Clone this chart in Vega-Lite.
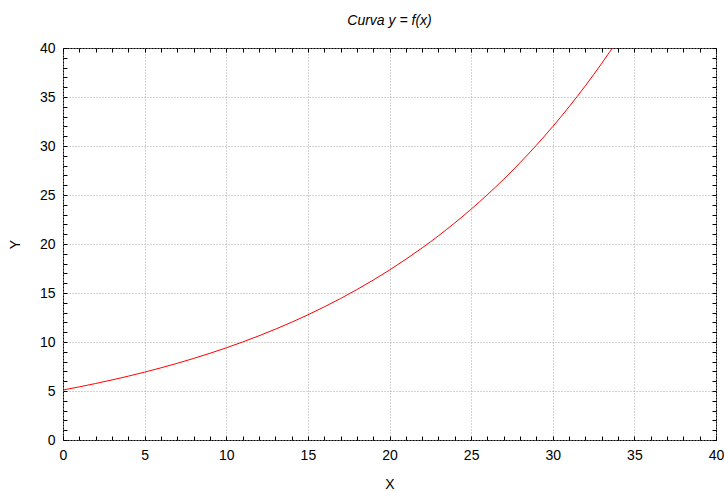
{
  "$schema": "https://vega.github.io/schema/vega-lite/v6.json",
  "width": 653,
  "height": 392,
  "autosize": "none",
  "padding": {"left": 63, "top": 48, "right": 9, "bottom": 51},
  "background": "white",
  "title": {"text": "Curva y = f(x)", "font": "Liberation Sans", "fontSize": 14, "fontWeight": "normal", "fontStyle": "italic", "color": "#000", "offset": 12},
  "config": {
    "view": {"stroke": "#000", "strokeWidth": 1},
    "axis": {"labelFont": "Liberation Sans", "labelFontSize": 14, "labelColor": "#000", "titleFont": "Liberation Sans", "titleFontSize": 14, "titleFontWeight": "normal", "titleColor": "#000", "domain": false, "tickColor": "#000"}
  },
  "data": {"values": [
    {"x": 0, "y": 5.100}, {"x": 1, "y": 5.422}, {"x": 2, "y": 5.764}, {"x": 3, "y": 6.128}, {"x": 4, "y": 6.515},
    {"x": 5, "y": 6.926}, {"x": 6, "y": 7.363}, {"x": 7, "y": 7.828}, {"x": 8, "y": 8.322}, {"x": 9, "y": 8.847},
    {"x": 10, "y": 9.405}, {"x": 11, "y": 9.999}, {"x": 12, "y": 10.630}, {"x": 13, "y": 11.300}, {"x": 14, "y": 12.014},
    {"x": 15, "y": 12.772}, {"x": 16, "y": 13.578}, {"x": 17, "y": 14.435}, {"x": 18, "y": 15.346}, {"x": 19, "y": 16.314},
    {"x": 20, "y": 17.344}, {"x": 21, "y": 18.438}, {"x": 22, "y": 19.602}, {"x": 23, "y": 20.839}, {"x": 24, "y": 22.154},
    {"x": 25, "y": 23.553}, {"x": 26, "y": 25.039}, {"x": 27, "y": 26.619}, {"x": 28, "y": 28.299}, {"x": 29, "y": 30.085},
    {"x": 30, "y": 31.984}, {"x": 31, "y": 34.002}, {"x": 32, "y": 36.148}, {"x": 33, "y": 38.430}, {"x": 34, "y": 40.855}
  ]},
  "resolve": {"axis": {"x": "independent", "y": "independent"}},
  "layer": [
    {
      "mark": {"type": "line", "color": "#ff0000", "strokeWidth": 1, "clip": true, "interpolate": "monotone"},
      "encoding": {
        "x": {"field": "x", "type": "quantitative", "scale": {"domain": [0, 40], "nice": false, "zero": false},
          "axis": {"orient": "bottom", "title": "X", "values": [0,5,10,15,20,25,30,35,40], "ticks": false, "labelPadding": 8, "titlePadding": 15, "grid": true, "gridColor": "#a8a8a8", "gridDash": [1, 2], "labelFlush": false}},
        "y": {"field": "y", "type": "quantitative", "scale": {"domain": [0, 40], "nice": false, "zero": false},
          "axis": {"orient": "left", "title": "Y", "values": [0,5,10,15,20,25,30,35,40], "ticks": false, "labelPadding": 8, "titlePadding": 17, "grid": true, "gridColor": "#a8a8a8", "gridDash": [1, 2], "labelFlush": false}}
      }
    },
    {
      "mark": {"type": "line", "strokeOpacity": 0},
      "encoding": {
        "x": {"field": "x", "type": "quantitative", "axis": {"orient": "bottom", "title": null, "labels": false, "grid": false, "tickSize": -4, "values": [0,1,2,3,4,5,6,7,8,9,10,11,12,13,14,15,16,17,18,19,20,21,22,23,24,25,26,27,28,29,30,31,32,33,34,35,36,37,38,39,40]}},
        "y": {"field": "y", "type": "quantitative", "axis": {"orient": "left", "title": null, "labels": false, "grid": false, "tickSize": -4, "values": [0,1,2,3,4,5,6,7,8,9,10,11,12,13,14,15,16,17,18,19,20,21,22,23,24,25,26,27,28,29,30,31,32,33,34,35,36,37,38,39,40]}}
      }
    },
    {
      "mark": {"type": "line", "strokeOpacity": 0},
      "encoding": {
        "x": {"field": "x", "type": "quantitative", "axis": {"orient": "top", "title": null, "labels": false, "grid": false, "tickSize": -4, "values": [0,1,2,3,4,5,6,7,8,9,10,11,12,13,14,15,16,17,18,19,20,21,22,23,24,25,26,27,28,29,30,31,32,33,34,35,36,37,38,39,40]}},
        "y": {"field": "y", "type": "quantitative", "axis": {"orient": "right", "title": null, "labels": false, "grid": false, "tickSize": -4, "values": [0,1,2,3,4,5,6,7,8,9,10,11,12,13,14,15,16,17,18,19,20,21,22,23,24,25,26,27,28,29,30,31,32,33,34,35,36,37,38,39,40]}}
      }
    }
  ]
}
